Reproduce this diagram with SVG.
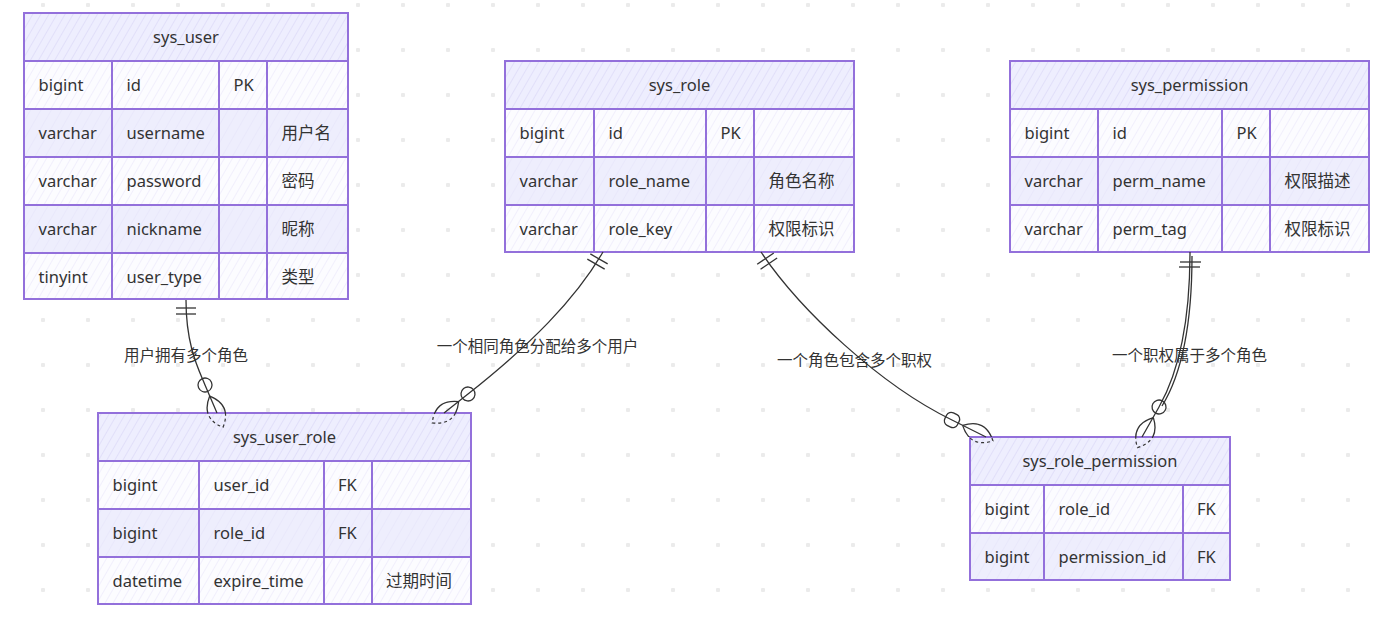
<svg xmlns="http://www.w3.org/2000/svg" width="1387" height="628" viewBox="0 0 1387 628">
<style>
.t{font-family:"Noto Sans","Noto Sans CJK SC",sans-serif;font-size:16.5px;fill:#333}
.h{text-anchor:middle}
.lbl{font-family:"Noto Sans","Noto Sans CJK SC",sans-serif;font-size:15.5px;fill:#333;text-anchor:middle}
.cell{stroke:#9370DB;stroke-width:2}
.hd{fill:url(#hatchHead)}
.odd{fill:url(#hatchOdd)}
.even{fill:url(#hatchEven)}
.edge{fill:none;stroke:#333;stroke-width:1.3}
.dash{fill:none;stroke:#333;stroke-width:1.2;stroke-dasharray:3 3}
</style>
<defs>
<pattern id="dots" patternUnits="userSpaceOnUse" x="41" y="3" width="45" height="45"><rect x="0" y="0" width="4" height="4" rx="1" fill="#ebebeb"/></pattern>
<pattern id="hatchHead" patternUnits="userSpaceOnUse" width="7" height="7" patternTransform="rotate(30)"><rect width="7" height="7" fill="#EEEEFE"/><line x1="0" y1="0" x2="0" y2="7" stroke="#D8D5F6" stroke-width="1.2"/></pattern>
<pattern id="hatchOdd" patternUnits="userSpaceOnUse" width="7" height="7" patternTransform="rotate(30)"><rect width="7" height="7" fill="#FCFCFF"/><line x1="0" y1="0" x2="0" y2="7" stroke="#E6E3FA" stroke-width="1"/></pattern>
<pattern id="hatchEven" patternUnits="userSpaceOnUse" width="9" height="9" patternTransform="rotate(30)"><rect width="9" height="9" fill="#EEEEFD"/><line x1="0" y1="0" x2="0" y2="9" stroke="#E4E2FA" stroke-width="1"/></pattern>
<clipPath id="above413"><rect x="0" y="0" width="1387" height="413"/></clipPath>
<clipPath id="below413"><rect x="0" y="413" width="1387" height="215"/></clipPath>
<clipPath id="above437"><rect x="0" y="0" width="1387" height="437"/></clipPath>
<clipPath id="below437"><rect x="0" y="437" width="1387" height="191"/></clipPath>
</defs>
<rect width="1387" height="628" fill="#ffffff"/>
<rect width="1387" height="628" fill="url(#dots)"/>

<g id="sys_user">
<rect class="cell hd" x="24" y="13" width="324" height="48"/>
<text class="t h" x="186" y="43">sys_user</text>
<rect class="cell odd" x="24" y="61" width="88" height="48"/><rect class="cell odd" x="112" y="61" width="107" height="48"/><rect class="cell odd" x="219" y="61" width="48" height="48"/><rect class="cell odd" x="267" y="61" width="81" height="48"/>
<rect class="cell even" x="24" y="109" width="88" height="48"/><rect class="cell even" x="112" y="109" width="107" height="48"/><rect class="cell even" x="219" y="109" width="48" height="48"/><rect class="cell even" x="267" y="109" width="81" height="48"/>
<rect class="cell odd" x="24" y="157" width="88" height="48"/><rect class="cell odd" x="112" y="157" width="107" height="48"/><rect class="cell odd" x="219" y="157" width="48" height="48"/><rect class="cell odd" x="267" y="157" width="81" height="48"/>
<rect class="cell even" x="24" y="205" width="88" height="48"/><rect class="cell even" x="112" y="205" width="107" height="48"/><rect class="cell even" x="219" y="205" width="48" height="48"/><rect class="cell even" x="267" y="205" width="81" height="48"/>
<rect class="cell odd" x="24" y="253" width="88" height="46"/><rect class="cell odd" x="112" y="253" width="107" height="46"/><rect class="cell odd" x="219" y="253" width="48" height="46"/><rect class="cell odd" x="267" y="253" width="81" height="46"/>
<text class="t" x="38.5" y="90.5">bigint</text><text class="t" x="126.5" y="90.5">id</text><text class="t" x="233.5" y="90.5">PK</text>
<text class="t" x="38.5" y="138.5">varchar</text><text class="t" x="126.5" y="138.5">username</text><text class="t" x="281.5" y="138.5">用户名</text>
<text class="t" x="38.5" y="186.5">varchar</text><text class="t" x="126.5" y="186.5">password</text><text class="t" x="281.5" y="186.5">密码</text>
<text class="t" x="38.5" y="234.5">varchar</text><text class="t" x="126.5" y="234.5">nickname</text><text class="t" x="281.5" y="234.5">昵称</text>
<text class="t" x="38.5" y="282.5">tinyint</text><text class="t" x="126.5" y="282.5">user_type</text><text class="t" x="281.5" y="282.5">类型</text>
</g>

<g id="sys_role">
<rect class="cell hd" x="505" y="61" width="349" height="48"/>
<text class="t h" x="679.5" y="91">sys_role</text>
<rect class="cell odd" x="505" y="109" width="89" height="48"/><rect class="cell odd" x="594" y="109" width="112" height="48"/><rect class="cell odd" x="706" y="109" width="48" height="48"/><rect class="cell odd" x="754" y="109" width="100" height="48"/>
<rect class="cell even" x="505" y="157" width="89" height="48"/><rect class="cell even" x="594" y="157" width="112" height="48"/><rect class="cell even" x="706" y="157" width="48" height="48"/><rect class="cell even" x="754" y="157" width="100" height="48"/>
<rect class="cell odd" x="505" y="205" width="89" height="47"/><rect class="cell odd" x="594" y="205" width="112" height="47"/><rect class="cell odd" x="706" y="205" width="48" height="47"/><rect class="cell odd" x="754" y="205" width="100" height="47"/>
<text class="t" x="519.5" y="138.5">bigint</text><text class="t" x="608.5" y="138.5">id</text><text class="t" x="720.5" y="138.5">PK</text>
<text class="t" x="519.5" y="186.5">varchar</text><text class="t" x="608.5" y="186.5">role_name</text><text class="t" x="768.5" y="186.5">角色名称</text>
<text class="t" x="519.5" y="234.5">varchar</text><text class="t" x="608.5" y="234.5">role_key</text><text class="t" x="768.5" y="234.5">权限标识</text>
</g>

<g id="sys_permission">
<rect class="cell hd" x="1010" y="61" width="359" height="48"/>
<text class="t h" x="1189.5" y="91">sys_permission</text>
<rect class="cell odd" x="1010" y="109" width="88" height="48"/><rect class="cell odd" x="1098" y="109" width="124" height="48"/><rect class="cell odd" x="1222" y="109" width="48" height="48"/><rect class="cell odd" x="1270" y="109" width="99" height="48"/>
<rect class="cell even" x="1010" y="157" width="88" height="48"/><rect class="cell even" x="1098" y="157" width="124" height="48"/><rect class="cell even" x="1222" y="157" width="48" height="48"/><rect class="cell even" x="1270" y="157" width="99" height="48"/>
<rect class="cell odd" x="1010" y="205" width="88" height="47"/><rect class="cell odd" x="1098" y="205" width="124" height="47"/><rect class="cell odd" x="1222" y="205" width="48" height="47"/><rect class="cell odd" x="1270" y="205" width="99" height="47"/>
<text class="t" x="1024.5" y="138.5">bigint</text><text class="t" x="1112.5" y="138.5">id</text><text class="t" x="1236.5" y="138.5">PK</text>
<text class="t" x="1024.5" y="186.5">varchar</text><text class="t" x="1112.5" y="186.5">perm_name</text><text class="t" x="1284.5" y="186.5">权限描述</text>
<text class="t" x="1024.5" y="234.5">varchar</text><text class="t" x="1112.5" y="234.5">perm_tag</text><text class="t" x="1284.5" y="234.5">权限标识</text>
</g>

<g id="sys_user_role">
<rect class="cell hd" x="98" y="413" width="373" height="48"/>
<text class="t h" x="284.5" y="443">sys_user_role</text>
<rect class="cell odd" x="98" y="461" width="101" height="48"/><rect class="cell odd" x="199" y="461" width="125" height="48"/><rect class="cell odd" x="324" y="461" width="48" height="48"/><rect class="cell odd" x="372" y="461" width="99" height="48"/>
<rect class="cell even" x="98" y="509" width="101" height="48"/><rect class="cell even" x="199" y="509" width="125" height="48"/><rect class="cell even" x="324" y="509" width="48" height="48"/><rect class="cell even" x="372" y="509" width="99" height="48"/>
<rect class="cell odd" x="98" y="557" width="101" height="47"/><rect class="cell odd" x="199" y="557" width="125" height="47"/><rect class="cell odd" x="324" y="557" width="48" height="47"/><rect class="cell odd" x="372" y="557" width="99" height="47"/>
<text class="t" x="112.5" y="490.5">bigint</text><text class="t" x="213.5" y="490.5">user_id</text><text class="t" x="338" y="490.5">FK</text>
<text class="t" x="112.5" y="538.5">bigint</text><text class="t" x="213.5" y="538.5">role_id</text><text class="t" x="338" y="538.5">FK</text>
<text class="t" x="112.5" y="586.5">datetime</text><text class="t" x="213.5" y="586.5">expire_time</text><text class="t" x="386" y="586.5">过期时间</text>
</g>

<g id="sys_role_permission">
<rect class="cell hd" x="970" y="437" width="260" height="48"/>
<text class="t h" x="1100" y="467">sys_role_permission</text>
<rect class="cell odd" x="970" y="485" width="74" height="48"/><rect class="cell odd" x="1044" y="485" width="139" height="48"/><rect class="cell odd" x="1183" y="485" width="47" height="48"/>
<rect class="cell even" x="970" y="533" width="74" height="47"/><rect class="cell even" x="1044" y="533" width="139" height="47"/><rect class="cell even" x="1183" y="533" width="47" height="47"/>
<text class="t" x="984.5" y="514.5">bigint</text><text class="t" x="1058.5" y="514.5">role_id</text><text class="t" x="1197" y="514.5">FK</text>
<text class="t" x="984.5" y="562.5">bigint</text><text class="t" x="1058.5" y="562.5">permission_id</text><text class="t" x="1197" y="562.5">FK</text>
</g>

<g id="connectors">
<!-- sys_user -> sys_user_role -->
<path class="edge" d="M186,300 C186,345 198,368 205,385 L217,413"/>
<g transform="translate(186,300) rotate(90)"><line class="edge" x1="8" y1="-10" x2="8" y2="10"/><line class="edge" x1="14" y1="-10" x2="14" y2="10"/></g>
<g transform="translate(205,385) rotate(67)"><circle class="edge" cx="0" cy="0" r="7"/></g>
<g clip-path="url(#above413)"><g transform="translate(205,385) rotate(67)"><path class="edge" d="M12,0 Q29,-17 46,0 Q29,17 12,0"/></g></g>
<g clip-path="url(#below413)"><g transform="translate(205,385) rotate(67)"><path class="dash" d="M12,0 Q29,-17 46,0 Q29,17 12,0"/></g></g>
<text class="lbl" x="186" y="361">用户拥有多个角色</text>

<!-- sys_role -> sys_user_role -->
<path class="edge" d="M603,252 C575,300 530,345 468,394 L444,413"/>
<g transform="translate(603,252) rotate(120)"><line class="edge" x1="8" y1="-10" x2="8" y2="10"/><line class="edge" x1="14" y1="-10" x2="14" y2="10"/></g>
<g transform="translate(468,394) rotate(141)"><circle class="edge" cx="0" cy="0" r="7"/></g>
<g clip-path="url(#above413)"><g transform="translate(468,394) rotate(141)"><path class="edge" d="M12,0 Q29,-17 46,0 Q29,17 12,0"/></g></g>
<g clip-path="url(#below413)"><g transform="translate(468,394) rotate(141)"><path class="dash" d="M12,0 Q29,-17 46,0 Q29,17 12,0"/></g></g>
<text class="lbl" x="537.5" y="352">一个相同角色分配给多个用户</text>

<!-- sys_role -> sys_role_permission -->
<path class="edge" d="M761,252 C800,310 880,385 952,420 L986,437"/>
<g transform="translate(761,252) rotate(56)"><line class="edge" x1="8" y1="-10" x2="8" y2="10"/><line class="edge" x1="14" y1="-10" x2="14" y2="10"/></g>
<g transform="translate(952,420) rotate(27)"><rect class="edge" x="-7" y="-7" width="14" height="14" rx="5"/></g>
<g clip-path="url(#above437)"><g transform="translate(952,420) rotate(27)"><path class="edge" d="M12,0 Q29,-17 46,0 Q29,17 12,0"/></g></g>
<g clip-path="url(#below437)"><g transform="translate(952,420) rotate(27)"><path class="dash" d="M12,0 Q29,-17 46,0 Q29,17 12,0"/></g></g>
<text class="lbl" x="854.5" y="366">一个角色包含多个职权</text>

<!-- sys_permission -> sys_role_permission -->
<path class="edge" d="M1190,252 C1190,320 1180,370 1159,407 L1142,437"/>
<path class="edge" d="M1192,256 C1192,322 1183,372 1162,406" stroke-width="0.8"/>
<g transform="translate(1190,252) rotate(90)"><line class="edge" x1="10" y1="-11" x2="10" y2="10"/><line class="edge" x1="15" y1="-10" x2="15" y2="11"/></g>
<g transform="translate(1159,407) rotate(118)"><circle class="edge" cx="0" cy="0" r="7"/></g>
<g clip-path="url(#above437)"><g transform="translate(1159,407) rotate(118)"><path class="edge" d="M12,0 Q29,-17 46,0 Q29,17 12,0"/></g></g>
<g clip-path="url(#below437)"><g transform="translate(1159,407) rotate(118)"><path class="dash" d="M12,0 Q29,-17 46,0 Q29,17 12,0"/></g></g>
<text class="lbl" x="1189.5" y="361">一个职权属于多个角色</text>
</g>
</svg>
